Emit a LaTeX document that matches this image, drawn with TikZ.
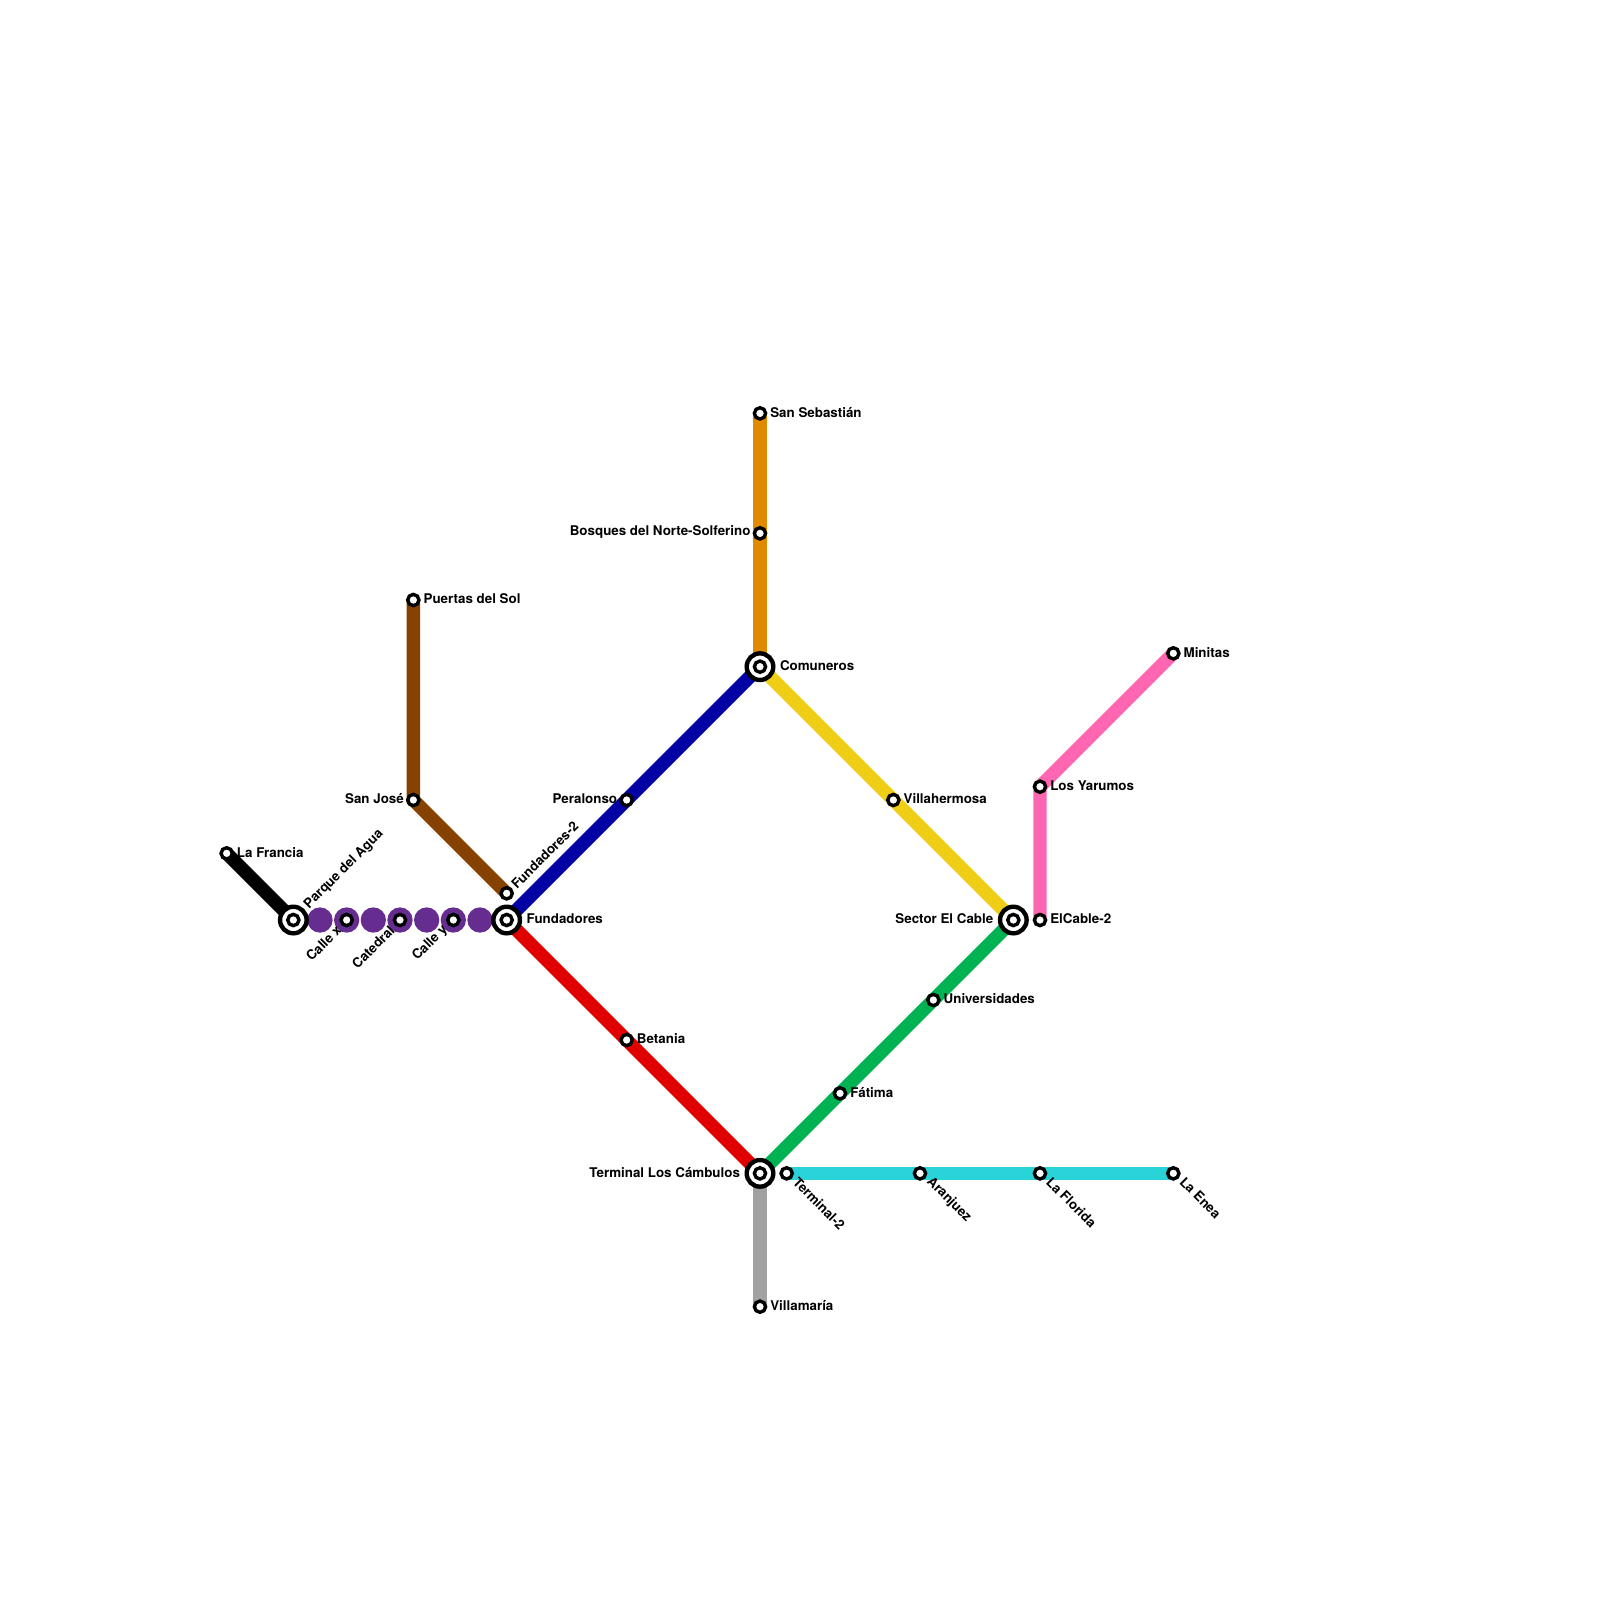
\documentclass[tikz,border=0pt]{standalone}
\usepackage{fontspec}
\setmainfont{TeX Gyre Heros}
\usetikzlibrary{positioning,backgrounds}
\definecolor{lineblack}{HTML}{000000}
\definecolor{linepurple}{HTML}{662C90}
\definecolor{linebrown}{HTML}{854200}
\definecolor{lineblue}{HTML}{0000A5}
\definecolor{linered}{HTML}{E00000}
\definecolor{lineyellow}{HTML}{F0CE15}
\definecolor{linegreen}{HTML}{00B251}
\definecolor{lineorange}{HTML}{E08A00}
\definecolor{linegrey}{HTML}{A1A1A1}
\definecolor{linecyan}{HTML}{29D4D9}
\definecolor{linepink}{HTML}{FF66B2}
\tikzset{
  stop/.style={circle, draw=black, fill=white, line width=0.97pt, minimum size=3.2pt, inner sep=0pt},
  hub/.style={circle, draw=black, fill=white, line width=1.25pt, minimum size=7.57pt, inner sep=0pt,
              path picture={\draw[line width=0.97pt] (path picture bounding box.center) circle (1.6pt);}},
  route/.style={line width=3.8pt},
  beads/.style={line width=7.2pt, line cap=round, dash pattern=on 0pt off 7.587pt},
  lab/.style={inner sep=0pt, font=\fontsize{3.8}{4.5}\selectfont\bfseries, text=black},
  labr/.style={lab, yshift=0.3pt},
  labne/.style={lab, rotate=45, anchor=west, xshift=2.6pt},
  labse/.style={lab, rotate=-45, anchor=west, xshift=2.9pt, yshift=0.5pt},
  labsw/.style={lab, rotate=45, anchor=east, xshift=-3pt},
  node distance=0.65pt
}
\begin{document}
\begin{tikzpicture}[x=0.13333cm, y=-0.13333cm]
  \useasboundingbox (0,0) rectangle (120,120);
  % hubs
  \node[hub] (parque) at (22,69) {};
  \node[hub] (fundadores) at (38,69) {};
  \node[hub] (comuneros) at (57,50) {};
  \node[hub] (terminal) at (57,88) {};
  \node[hub] (sector) at (76,69) {};
  % stops
  \node[stop] (francia) at (17,64) {};
  \node[stop] (callex) at (26,69) {};
  \node[stop] (catedral) at (30,69) {};
  \node[stop] (calley) at (34,69) {};
  \node[stop] (puertas) at (31,45) {};
  \node[stop] (sanjose) at (31,60) {};
  \node[stop] (fundadoresb) at (38,67) {};
  \node[stop] (peralonso) at (47,60) {};
  \node[stop] (betania) at (47,78) {};
  \node[stop] (sebastian) at (57,31) {};
  \node[stop] (bosques) at (57,40) {};
  \node[stop] (villamaria) at (57,98) {};
  \node[stop] (villahermosa) at (67,60) {};
  \node[stop] (universidades) at (70,75) {};
  \node[stop] (fatima) at (63,82) {};
  \node[stop] (terminalb) at (59,88) {};
  \node[stop] (aranjuez) at (69,88) {};
  \node[stop] (florida) at (78,88) {};
  \node[stop] (enea) at (88,88) {};
  \node[stop] (cableb) at (78,69) {};
  \node[stop] (yarumos) at (78,59) {};
  \node[stop] (minitas) at (88,49) {};
  % lines
  \begin{scope}[on background layer]
    \draw[route, lineblack] (francia.center) -- (parque.center);
    \draw[beads, linepurple] (parque.center) -- (fundadores.center);
    \draw[route, linebrown, line join=miter] (puertas.center) -- (sanjose.center) -- (fundadoresb.center);
    \draw[route, lineblue] (fundadores.center) -- (peralonso.center) -- (comuneros.center);
    \draw[route, linered] (fundadores.center) -- (betania.center) -- (terminal.center);
    \draw[route, lineorange] (sebastian.center) -- (bosques.center) -- (comuneros.center);
    \draw[route, lineyellow] (comuneros.center) -- (villahermosa.center) -- (sector.center);
    \draw[route, linegreen] (terminal.center) -- (fatima.center) -- (universidades.center) -- (sector.center);
    \draw[route, linegrey] (terminal.center) -- (villamaria.center);
    \draw[route, linecyan] (terminalb.center) -- (aranjuez.center) -- (florida.center) -- (enea.center);
    \draw[route, linepink] (cableb.center) -- (yarumos.center) -- (minitas.center);
  \end{scope}
  % labels
  \node[labr, right=of francia] (franciatxt) {La Francia};
  \node[labne, xshift=2.6pt] (parquetxt) at (parque) {Parque del Agua};
  \node[labsw] (callextxt) at (callex) {Calle x};
  \node[labsw] (catedraltxt) at (catedral) {Catedral};
  \node[labsw] (calleytxt) at (calley) {Calle y};
  \node[labr, right=of puertas] (puertastxt) {Puertas del Sol};
  \node[labr, left=0.43pt of sanjose] (sanjosetxt) {San José};
  \node[labne] (fundadoresbtxt) at (fundadoresb) {Fundadores-2};
  \node[labr, right=1.1pt of fundadores] (fundadorestxt) {Fundadores};
  \node[labr, left=0.43pt of peralonso] (peralonsotxt) {Peralonso};
  \node[labr, right=of betania] (betaniatxt) {Betania};
  \node[labr, right=of sebastian] (sebastiantxt) {San Sebastián};
  \node[labr, left=0.43pt of bosques] (bosquestxt) {Bosques del Norte-Solferino};
  \node[labr, right=1.1pt of comuneros] (comunerostxt) {Comuneros};
  \node[labr, left=1.1pt of terminal] (terminaltxt) {Terminal Los Cámbulos};
  \node[labr, right=of villamaria] (villamariatxt) {Villamaría};
  \node[labr, right=of villahermosa] (villahermosatxt) {Villahermosa};
  \node[labr, right=of universidades] (universidadestxt) {Universidades};
  \node[labr, right=of fatima] (fatimatxt) {Fátima};
  \node[labr, left=1.1pt of sector] (sectortxt) {Sector El Cable};
  \node[labse] (terminalbtxt) at (terminalb) {Terminal-2};
  \node[labse] (aranjueztxt) at (aranjuez) {Aranjuez};
  \node[labse] (floridatxt) at (florida) {La Florida};
  \node[labse] (eneatxt) at (enea) {La Enea};
  \node[labr, right=of cableb] (cablebtxt) {ElCable-2};
  \node[labr, right=of yarumos] (yarumostxt) {Los Yarumos};
  \node[labr, right=of minitas] (minitastxt) {Minitas};
\end{tikzpicture}
\end{document}
